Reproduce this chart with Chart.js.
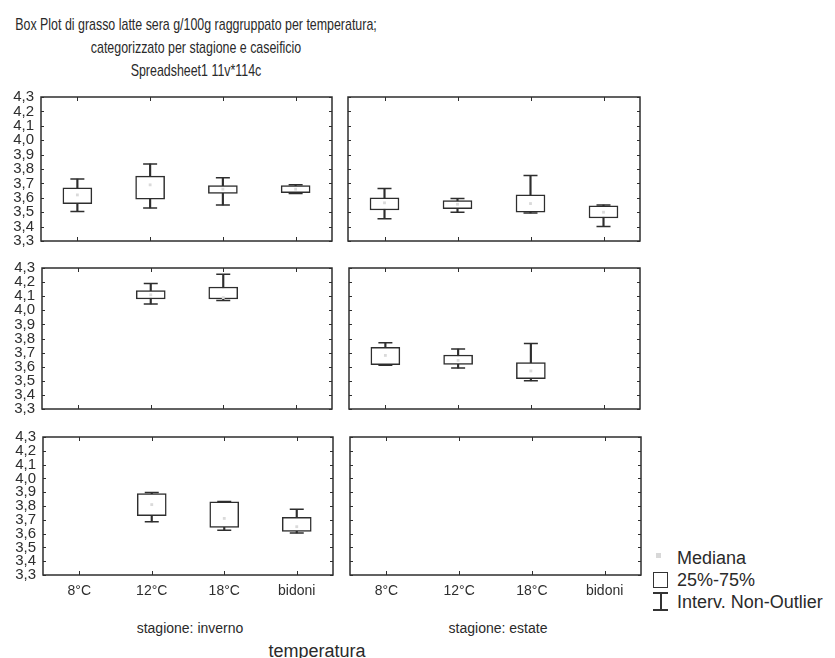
<!DOCTYPE html>
<html><head><meta charset="utf-8">
<script src="https://cdn.jsdelivr.net/npm/chart.js@4"></script>
<style>
body{margin:0;background:#fff;width:835px;height:658px;position:relative;overflow:hidden;font-family:'Liberation Sans',Arial,sans-serif;color:#2a2a2a}
.t{position:absolute;white-space:nowrap;line-height:20px}
.title{font-size:17px;left:196px;transform:translateX(-50%) scaleX(0.73)}
canvas{position:absolute}
.lg{position:absolute;font-size:18px;left:677px;line-height:20px;white-space:nowrap}
</style></head><body>
<div class="t title" style="top:15px">Box Plot di grasso latte sera g/100g raggruppato per temperatura;</div>
<div class="t title" style="top:38px">categorizzato per stagione e caseificio</div>
<div class="t title" style="top:61px">Spreadsheet1 11v*114c</div>
<div class="t" style="left:190px;top:618px;font-size:14px;transform:translateX(-50%)">stagione: inverno</div>
<div class="t" style="left:498px;top:618px;font-size:14px;transform:translateX(-50%)">stagione: estate</div>
<div class="t" style="left:317px;top:641px;font-size:18px;transform:translateX(-50%)">temperatura</div>
<div style="position:absolute;left:656px;top:553px;width:5px;height:5px;background:#d8d8d8"></div>
<div class="lg" style="top:548px">Mediana</div>
<div style="position:absolute;left:653px;top:572px;width:13px;height:14px;border:1.5px solid #333"></div>
<div class="lg" style="top:570px">25%-75%</div>
<div style="position:absolute;left:653px;top:592px;width:15px;height:1.5px;background:#333"></div>
<div style="position:absolute;left:660px;top:592px;width:1.5px;height:18px;background:#333"></div>
<div style="position:absolute;left:653px;top:609px;width:15px;height:1.5px;background:#333"></div>
<div class="lg" style="top:592px">Interv. Non-Outlier</div>
<script>
const categories = ['8°C', '12°C', '18°C', 'bidoni'];
const yTicks = [3.3, 3.4, 3.5, 3.6, 3.7, 3.8, 3.9, 4.0, 4.1, 4.2, 4.3];

// caseificio 1
const inv1Min = [3.505, 3.53, 3.55, 3.63];
const inv1Q1  = [3.56, 3.59, 3.63, 3.635];
const inv1Med = [3.62, 3.69, 3.66, 3.66];
const inv1Q3  = [3.67, 3.75, 3.685, 3.685];
const inv1Max = [3.73, 3.835, 3.74, 3.69];

const est1Min = [3.455, 3.50, 3.495, 3.40];
const est1Q1  = [3.515, 3.525, 3.50, 3.46];
const est1Med = [3.565, 3.555, 3.56, 3.50];
const est1Q3  = [3.60, 3.58, 3.62, 3.545];
const est1Max = [3.665, 3.595, 3.755, 3.55];

// caseificio 2
const inv2Min = [null, 4.045, 4.07, null];
const inv2Q1  = [null, 4.08, 4.08, null];
const inv2Med = [null, 4.11, 4.09, null];
const inv2Q3  = [null, 4.14, 4.165, null];
const inv2Max = [null, 4.19, 4.255, null];

const est2Min = [3.61, 3.59, 3.50, null];
const est2Q1  = [3.615, 3.617, 3.515, null];
const est2Med = [3.68, 3.645, 3.57, null];
const est2Q3  = [3.738, 3.683, 3.63, null];
const est2Max = [3.77, 3.725, 3.765, null];

// caseificio 3
const inv3Min = [null, 3.685, 3.625, 3.605];
const inv3Q1  = [null, 3.73, 3.645, 3.615];
const inv3Med = [null, 3.81, 3.71, 3.65];
const inv3Q3  = [null, 3.89, 3.83, 3.717];
const inv3Max = [null, 3.898, 3.832, 3.776];

const est3Min = [null, null, null, null];
const est3Q1  = [null, null, null, null];
const est3Med = [null, null, null, null];
const est3Q3  = [null, null, null, null];
const est3Max = [null, null, null, null];

const INK = '#2e2e2e';
const FONT = "'Liberation Sans', Arial, sans-serif";
const PAD = 16;

const framePlugin = {
  id: 'frame',
  afterDraw(chart) {
    const { ctx, chartArea: a, scales: { x, y } } = chart;
    ctx.save();
    ctx.strokeStyle = INK;
    ctx.lineWidth = 1.5;
    ctx.strokeRect(a.left, a.top, a.right - a.left, a.bottom - a.top);
    ctx.lineWidth = 1;
    ctx.beginPath();
    x.ticks.forEach((t, i) => {
      const px = Math.round(x.getPixelForTick(i)) + 0.5;
      ctx.moveTo(px, a.top); ctx.lineTo(px, a.top + 4);
      ctx.moveTo(px, a.bottom); ctx.lineTo(px, a.bottom - 4);
    });
    y.ticks.forEach((t, i) => {
      const py = Math.round(y.getPixelForTick(i)) + 0.5;
      ctx.moveTo(a.left, py); ctx.lineTo(a.left + 3, py);
      ctx.moveTo(a.right, py); ctx.lineTo(a.right - 3, py);
    });
    ctx.stroke();
    ctx.restore();
  }
};

// areaLeft/areaRight/areaTop/areaBottom are the wanted plot-frame edges
function makePanel(areaLeft, areaRight, areaTop, areaBottom, showY, showX, mins, q1, med, q3, maxs) {
  const yw = showY ? 41 : 4;
  const xh = showX ? 26 : 0;
  let width = (areaRight - areaLeft) + yw + 4;
  let height = (areaBottom - areaTop) + PAD + (showX ? xh : PAD);
  const c = document.createElement('canvas');
  c.width = width; c.height = height;
  c.style.width = width + 'px'; c.style.height = height + 'px';
  document.body.appendChild(c);
  const boxes = categories.map((_, i) => q1[i] == null ? null : [q1[i], q3[i]]);
  const whiskers = categories.map((_, i) => mins[i] == null ? null : [mins[i], maxs[i]]);
  const chart = new Chart(c, {
    type: 'bar',
    data: {
      labels: categories,
      datasets: [
        { type: 'line', data: med, showLine: false, pointStyle: 'rect', pointRadius: 2,
          pointBackgroundColor: '#dadada', pointBorderWidth: 0, order: 0 },
        { type: 'line', data: mins, showLine: false, pointStyle: 'line', pointRadius: 7,
          pointBorderColor: INK, borderColor: INK, pointBorderWidth: 1.5, order: 1 },
        { type: 'line', data: maxs, showLine: false, pointStyle: 'line', pointRadius: 7,
          pointBorderColor: INK, borderColor: INK, pointBorderWidth: 1.5, order: 1 },
        { type: 'bar', data: boxes, backgroundColor: '#fff', borderColor: INK, borderWidth: 1.5,
          borderSkipped: false, barThickness: 29, grouped: false, order: 2 },
        { type: 'bar', data: whiskers, backgroundColor: INK, borderWidth: 0,
          barThickness: 1.5, grouped: false, order: 3 }
      ]
    },
    options: {
      responsive: false, animation: false, events: [],
      layout: { autoPadding: false, padding: { left: 0, right: 4, top: PAD, bottom: showX ? 0 : PAD } },
      plugins: { legend: { display: false }, tooltip: { enabled: false } },
      scales: {
        x: {
          offset: true,
          grid: { display: false, drawTicks: false }, border: { display: false },
          ticks: { display: showX, padding: 8, color: INK, font: { family: FONT, size: 14 }, maxRotation: 0, autoSkip: false },
          afterFit(s) { s.height = xh; }
        },
        y: {
          min: 3.3, max: 4.3,
          grid: { display: false, drawTicks: false }, border: { display: false },
          afterBuildTicks(s) { s.ticks = yTicks.map(v => ({ value: v })); },
          ticks: { display: showY, autoSkip: false, padding: 7, color: INK,
                   font: { family: FONT, size: 15, lineHeight: 1 },
                   callback: v => Number(v).toFixed(1).replace('.', ',') },
          afterFit(s) { s.width = yw; }
        }
      }
    },
    plugins: [framePlugin]
  });
  // second pass: make the plot frame land exactly on the wanted edges
  let a = chart.chartArea;
  const dw = (areaRight - areaLeft) - (a.right - a.left);
  const dh = (areaBottom - areaTop) - (a.bottom - a.top);
  if (dw !== 0 || dh !== 0) {
    width += dw; height += dh;
    chart.resize(width, height);
    a = chart.chartArea;
  }
  c.style.left = (areaLeft - a.left) + 'px';
  c.style.top = (areaTop - a.top) + 'px';
}

makePanel(41, 332, 97, 241, true, false, inv1Min, inv1Q1, inv1Med, inv1Q3, inv1Max);
makePanel(348, 640, 97, 241, false, false, est1Min, est1Q1, est1Med, est1Q3, est1Max);
makePanel(42, 332, 268, 409, true, false, inv2Min, inv2Q1, inv2Med, inv2Q3, inv2Max);
makePanel(349, 640, 268, 409, false, false, est2Min, est2Q1, est2Med, est2Q3, est2Max);
makePanel(43, 333, 437, 575, true, true, inv3Min, inv3Q1, inv3Med, inv3Q3, inv3Max);
makePanel(350, 641, 437, 575, false, true, est3Min, est3Q1, est3Med, est3Q3, est3Max);
</script>
</body></html>
